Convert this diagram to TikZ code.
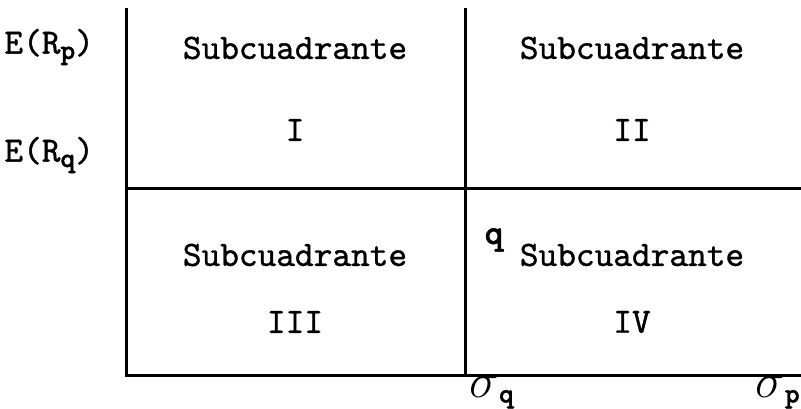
\documentclass[tikz,border=0pt]{standalone}
\usepackage{fontspec}
\usepackage{graphicx}
\setmonofont{lmmono10-regular.otf}[FakeBold=1,BoldFont=lmmonolt10-bold.otf,BoldFeatures={FakeBold=1.5}]
\usetikzlibrary{positioning}

% lowered small index
\newcommand{\lowidx}[1]{\raisebox{-0.35ex}{\fontsize{14pt}{14pt}\selectfont\bfseries #1}}
\newcommand{\sig}{\scalebox{1.45}{$\sigma$}}

\begin{document}
\begin{tikzpicture}[
  x=0.5pt,y=-0.5pt,
  font=\fontsize{17.8pt}{20pt}\selectfont\ttfamily,
  axis/.style={line width=1.5pt},
  quad/.style={align=center,inner sep=0pt},
  lbl/.style={inner sep=0pt}
]
\useasboundingbox (0,0) rectangle (801,408);

% axes and dividing lines
\coordinate (top) at (126,8);
\coordinate (orig) at (126,375);
\coordinate (xend) at (801,375);
\coordinate (midtop) at (465,8);
\coordinate (midbot) at (465,375);
\coordinate (hl) at (126,188);
\coordinate (hr) at (801,188);
\draw[axis] (top) -- (orig) -- (xend);
\draw[axis] (midtop) -- (midbot);
\draw[axis] (hl) -- (hr);

% quadrant labels
\node[quad] (s1) at (295,48) {Subcuadrante};
\node[quad] (n1) at (295,130) {I};
\node[quad] (s2) at (632,48) {Subcuadrante};
\node[quad] (n2) at (632,130) {II};
\node[quad] (s3) at (295,255) {Subcuadrante};
\node[quad] (n3) at (295,322) {III};
\node[quad] (s4) at (632,255) {Subcuadrante};
\node[quad] (n4) at (632,322) {IV};
\node[lbl,font=\fontsize{17.8pt}{20pt}\selectfont\ttfamily\bfseries] (q) at (494,240) {q};

% axis labels
\node[lbl,anchor=west] (erp) at (4,47) {E(R\lowidx{p})};
\node[lbl,anchor=west] (erq) at (4,155) {E(R\lowidx{q})};
\node[lbl,anchor=west] (sq) at (469,392) {\sig\lowidx{q}};
\node[lbl,anchor=east] (sp) at (800,392) {\sig\lowidx{p}};
\end{tikzpicture}
\end{document}
